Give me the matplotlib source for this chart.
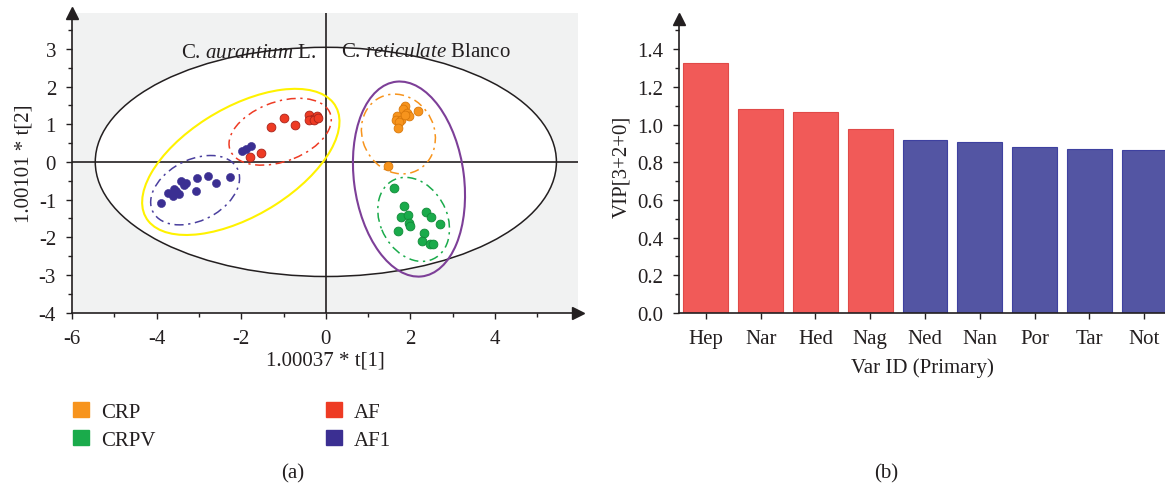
import matplotlib
matplotlib.use('Agg')
import matplotlib.pyplot as plt
from matplotlib.patches import Ellipse, Patch
from matplotlib.ticker import MultipleLocator, FormatStrFormatter

plt.rcParams['font.family'] = ['Liberation Serif', 'DejaVu Serif']
plt.rcParams['mathtext.fontset'] = 'custom'
plt.rcParams['mathtext.rm'] = 'Liberation Serif'
plt.rcParams['mathtext.it'] = 'Liberation Serif:italic'
plt.rcParams['axes.unicode_minus'] = False

TXT = '#231f20'
FS = 15

# score plot data (t[1], t[2])
crp_x = [1.86, 1.82, 1.92, 1.97, 2.18, 1.68, 1.65, 1.78, 1.74, 1.70, 1.86, 1.47]
crp_y = [1.49, 1.41, 1.30, 1.23, 1.34, 1.21, 1.12, 1.10, 1.05, 0.89, 1.25, -0.12]
crpv_x = [1.60, 1.84, 1.78, 1.94, 1.96, 2.00, 1.70, 2.36, 2.48, 2.70, 2.32, 2.27, 2.45, 2.53]
crpv_y = [-0.69, -1.16, -1.45, -1.42, -1.62, -1.71, -1.82, -1.32, -1.47, -1.64, -1.89, -2.09, -2.18, -2.19]
af_x = [-1.80, -1.54, -1.29, -0.99, -0.72, -0.39, -0.31, -0.21, -0.39, -0.27, -0.19]
af_y = [0.12, 0.23, 0.92, 1.16, 0.97, 1.25, 1.14, 1.21, 1.10, 1.10, 1.16]
af1_x = [-3.89, -3.73, -3.61, -3.59, -3.46, -3.42, -3.36, -3.30, -3.06, -3.04, -2.79, -2.59,
         -2.26, -3.54, -1.99, -1.88, -1.76]
af1_y = [-1.09, -0.83, -0.91, -0.72, -0.85, -0.50, -0.61, -0.57, -0.77, -0.42, -0.38, -0.57,
         -0.41, -0.76, 0.28, 0.34, 0.41]

# ellipses: (centre x, centre y, width, height, angle)
t2_ellipse = (0.0, 0.0, 10.9, 6.08, 0)
aurantium_ellipse = (-2.01, 0.0, 5.38, 2.80, 35.7)
reticulate_ellipse = (1.965, -0.455, 5.2, 2.6, -83.5)
crp_ellipse = (1.715, 0.74, 2.14, 1.72, -75.4)
crpv_ellipse = (2.075, -1.525, 2.3, 1.6, -70)
af_ellipse = (-1.08, 0.80, 2.56, 1.56, 24.5)
af1_ellipse = (-3.09, -0.75, 2.31, 1.57, 34.5)

# VIP bar data
vip_labels = ['Hep', 'Nar', 'Hed', 'Nag', 'Ned', 'Nan', 'Por', 'Tar', 'Not']
vip_values = [1.329, 1.084, 1.069, 0.976, 0.916, 0.910, 0.882, 0.871, 0.864]

c_crp = '#f7941d'
c_crpv = '#1aab4b'
c_af = '#ee3b24'
c_af1 = '#3b2f92'

fig = plt.figure(figsize=(11.65, 4.85), dpi=100)

# ---------- (a) score plot ----------
ax1 = fig.add_axes([72 / 1165, 1 - 313.7 / 485, (578 - 72) / 1165, (313.7 - 14) / 485])
ax1.set_xlim(-6, 5.96)
ax1.set_ylim(-4, 3.95)
ax1.set_facecolor('#f1f2f2')

def add_ellipse(ax, p, **kw):
    e = Ellipse((p[0], p[1]), p[2], p[3], angle=p[4], **kw)
    ax.add_patch(e)

add_ellipse(ax1, t2_ellipse, facecolor='white', edgecolor=TXT, lw=1.1, zorder=1)
ax1.axhline(0, color=TXT, lw=1.2, zorder=2)
ax1.axvline(0, color=TXT, lw=1.2, zorder=2)

add_ellipse(ax1, aurantium_ellipse, facecolor='none', edgecolor='#fff200', lw=1.5, zorder=3)
add_ellipse(ax1, reticulate_ellipse, facecolor='none', edgecolor='#7d3f98', lw=1.5, zorder=3)
dd = (0, (6, 3, 1.5, 3))
add_ellipse(ax1, crp_ellipse, facecolor='none', edgecolor=c_crp, lw=1.1, ls=dd, zorder=3)
add_ellipse(ax1, crpv_ellipse, facecolor='none', edgecolor=c_crpv, lw=1.1, ls=dd, zorder=3)
add_ellipse(ax1, af_ellipse, facecolor='none', edgecolor=c_af, lw=1.1, ls=dd, zorder=3)
add_ellipse(ax1, af1_ellipse, facecolor='none', edgecolor='#4a3f9e', lw=1.1, ls=dd, zorder=3)

ax1.scatter(crp_x, crp_y, s=40, color=c_crp, edgecolors='#d9780a', linewidths=0.6, zorder=4)
ax1.scatter(crpv_x, crpv_y, s=40, color=c_crpv, edgecolors='#108a38', linewidths=0.6, zorder=4)
ax1.scatter(af_x, af_y, s=40, color=c_af, edgecolors='#a8231a', linewidths=0.6, zorder=4)
ax1.scatter(af1_x, af1_y, s=34, color=c_af1, edgecolors=c_af1, linewidths=0.4, zorder=4)

ax1.text(-0.22, 2.91, r'C. $\mathit{aurantium}$ L.', ha='right', va='center', fontsize=FS, color=TXT, zorder=5)
ax1.text(0.36, 2.93, r'C. $\mathit{reticulate}$ Blanco', ha='left', va='center', fontsize=FS, color=TXT, zorder=5)

for s in ['top', 'right']:
    ax1.spines[s].set_visible(False)
for s in ['left', 'bottom']:
    ax1.spines[s].set_color(TXT)
    ax1.spines[s].set_linewidth(1.2)
ax1.set_xticks([-6, -4, -2, 0, 2, 4])
ax1.xaxis.set_minor_locator(MultipleLocator(1))
ax1.yaxis.set_major_locator(MultipleLocator(1))
ax1.yaxis.set_minor_locator(MultipleLocator(0.5))
ax1.tick_params(which='major', direction='out', length=4.5, width=1, colors=TXT, labelsize=FS, pad=7)
ax1.tick_params(which='minor', direction='out', length=3, width=1, colors=TXT)
ax1.plot(1, 0, marker='>', color=TXT, markersize=9, transform=ax1.transAxes, clip_on=False)
ax1.plot(0, 1, marker='^', color=TXT, markersize=9, transform=ax1.transAxes, clip_on=False)
ax1.set_xlabel('1.00037 * t[1]', fontsize=FS, color=TXT, labelpad=2)
ax1.set_ylabel('1.00101 * t[2]', fontsize=FS, color=TXT, labelpad=4)

# legend
leg_kw = dict(loc='upper left', frameon=False, fontsize=FS, handlelength=0.75, handleheight=0.75,
              handletextpad=0.6, labelspacing=0.4, borderpad=0, borderaxespad=0, labelcolor=TXT)
leg1 = fig.legend(handles=[Patch(color=c_crp), Patch(color=c_crpv)], labels=['CRP', 'CRPV'],
                  bbox_to_anchor=(73 / 1165, 1 - 403 / 485), **leg_kw)
leg2 = fig.legend(handles=[Patch(color=c_af), Patch(color=c_af1)], labels=['AF', 'AF1'],
                  bbox_to_anchor=(326 / 1165, 1 - 403 / 485), **leg_kw)

fig.text(293 / 1165, 1 - 474 / 485, '(a)', ha='center', va='center', fontsize=FS, color=TXT)

# ---------- (b) VIP plot ----------
ax2 = fig.add_axes([679 / 1165, 1 - 314 / 485, (1165 - 679) / 1165, (314 - 20) / 485])
bar_colors = ['#f15a58'] * 4 + ['#5355a3'] * 5
edge_colors = ['#e04a48'] * 4 + ['#3e41a0'] * 5
ax2.bar(range(len(vip_labels)), vip_values, width=0.82, color=bar_colors,
        edgecolor=edge_colors, linewidth=0.8)
ax2.set_xlim(-0.49, 8.38)
ax2.set_ylim(0, 1.56)
ax2.set_xticks(range(len(vip_labels)))
ax2.set_xticklabels(vip_labels)
ax2.yaxis.set_major_locator(MultipleLocator(0.2))
ax2.yaxis.set_minor_locator(MultipleLocator(0.1))
ax2.yaxis.set_major_formatter(FormatStrFormatter('%.1f'))
for s in ['top', 'right']:
    ax2.spines[s].set_visible(False)
for s in ['left', 'bottom']:
    ax2.spines[s].set_color(TXT)
    ax2.spines[s].set_linewidth(1.2)
ax2.tick_params(which='major', direction='out', length=4.5, width=1, colors=TXT, labelsize=FS, pad=7)
ax2.tick_params(which='minor', direction='out', length=3, width=1, colors=TXT)
ax2.plot(0, 1, marker='^', color=TXT, markersize=9, transform=ax2.transAxes, clip_on=False)
ax2.set_ylabel('VIP[3+2+0]', fontsize=FS, color=TXT, labelpad=4)
ax2.set_xlabel('Var ID (Primary)', fontsize=FS, color=TXT, labelpad=7)

fig.text(886 / 1165, 1 - 474 / 485, '(b)', ha='center', va='center', fontsize=FS, color=TXT)

fig.savefig('out.png', dpi=100)
